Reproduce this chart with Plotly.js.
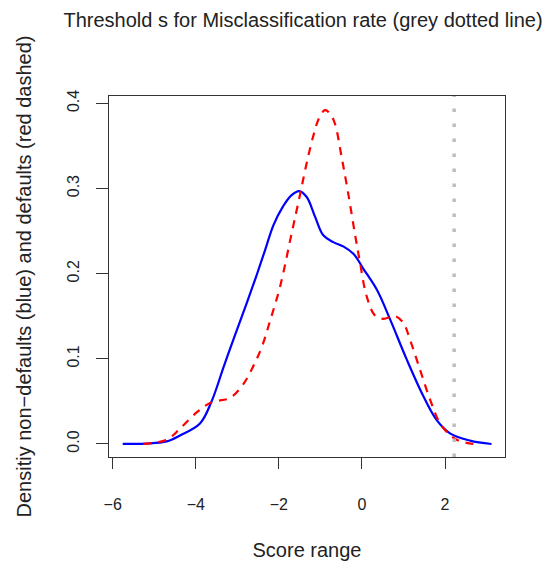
<!DOCTYPE html>
<html>
<head>
<meta charset="utf-8">
<script src="https://cdn.plot.ly/plotly-3.0.1.min.js"></script>
<style>html,body{margin:0;padding:0;background:#fff;}#plot{width:549px;height:563px;}</style>
</head>
<body>
<div id="plot"></div>
<script>
// Non-defaults density (blue solid)
var blueX = [-5.76, -5.20, -4.70, -4.38, -3.90, -3.62, -3.34, -3.10, -2.77, -2.53, -2.33, -2.13, -1.90, -1.70, -1.51, -1.33, -1.13, -0.93, -0.69, -0.45, -0.20, 0.03, 0.36, 0.68, 1.08, 1.48, 1.80, 2.12, 2.60, 3.12];
var blueY = [0.000, 0.0005, 0.003, 0.010, 0.024, 0.050, 0.089, 0.122, 0.166, 0.199, 0.228, 0.257, 0.279, 0.292, 0.297, 0.290, 0.267, 0.245, 0.237, 0.232, 0.223, 0.206, 0.181, 0.146, 0.099, 0.056, 0.028, 0.0125, 0.004, 0.000];
// Defaults density (red dashed)
var redX = [-5.26, -4.70, -4.38, -3.98, -3.62, -3.18, -2.86, -2.62, -2.41, -2.21, -1.97, -1.69, -1.49, -1.33, -1.17, -1.03, -0.89, -0.77, -0.65, -0.49, -0.33, -0.17, -0.05, 0.11, 0.31, 0.51, 0.80, 1.00, 1.16, 1.40, 1.64, 1.88, 2.12, 2.32, 2.68];
var redY = [0.000, 0.005, 0.018, 0.037, 0.049, 0.054, 0.070, 0.091, 0.114, 0.145, 0.185, 0.248, 0.293, 0.330, 0.362, 0.383, 0.392, 0.388, 0.376, 0.337, 0.294, 0.247, 0.214, 0.174, 0.151, 0.147, 0.150, 0.142, 0.122, 0.087, 0.052, 0.024, 0.0106, 0.004, 0.000];
// Threshold s
var threshold = 2.22;
var xTicks = [-6, -4, -2, 0, 2];
var yTicks = [0.0, 0.1, 0.2, 0.3, 0.4];
var yTickText = ["0.0", "0.1", "0.2", "0.3", "0.4"];

var font = "Liberation Sans, Arial, Helvetica, sans-serif";

var traces = [
  {x: blueX, y: blueY, type: 'scatter', mode: 'lines', name: 'non-defaults',
   line: {color: '#0000FF', width: 2.2, shape: 'spline', smoothing: 1}},
  {x: redX, y: redY, type: 'scatter', mode: 'lines', name: 'defaults',
   line: {color: '#FF0000', width: 2.2, dash: '8px,7px', shape: 'spline', smoothing: 1}}
];

var layout = {
  width: 549, height: 563,
  margin: {l: 109, r: 44, t: 96, b: 106},
  paper_bgcolor: '#fff', plot_bgcolor: '#fff',
  showlegend: false,
  font: {family: font, color: '#222', size: 16},
  title: {text: 'Threshold s for Misclassification rate (grey dotted line)',
          font: {family: font, size: 20, color: '#222'},
          xref: 'container', x: 0.552, xanchor: 'center',
          yref: 'container', y: 0.9645, yanchor: 'middle'},
  xaxis: {
    range: [-6.09, 3.444], tickvals: xTicks, ticktext: xTicks.map(function(v){return v < 0 ? '\u2212' + Math.abs(v) : String(v);}),
    ticks: 'outside', ticklen: 11, tickwidth: 1, tickcolor: '#333',
    showline: true, mirror: true, linecolor: '#333', linewidth: 1,
    showgrid: false, zeroline: false,
    tickfont: {size: 16, family: font, color: '#222'},
    ticklabelstandoff: 22,
    title: {text: 'Score range', font: {size: 20, family: font, color: '#222'}, standoff: 30}
  },
  yaxis: {
    range: [-0.0153, 0.4086], tickvals: yTicks, ticktext: yTickText, tickangle: -90,
    ticks: 'outside', ticklen: 12, tickwidth: 1, tickcolor: '#333',
    showline: true, mirror: true, linecolor: '#333', linewidth: 1,
    showgrid: false, zeroline: false,
    tickfont: {size: 16, family: font, color: '#222'},
    ticklabelstandoff: 11,
    title: {text: 'Densitiy non\u2212defaults (blue) and defaults (red dashed)', font: {size: 20, family: font, color: '#222'}, standoff: 27}
  },
  shapes: [
    {type: 'line', xref: 'x', yref: 'paper', x0: threshold, x1: threshold, y0: 0, y1: 1,
     line: {color: '#BEBEBE', width: 3.5, dash: '3.5px,11.5px'}}
  ]
};

Plotly.newPlot('plot', traces, layout, {displayModeBar: false, staticPlot: true});
</script>
</body>
</html>
